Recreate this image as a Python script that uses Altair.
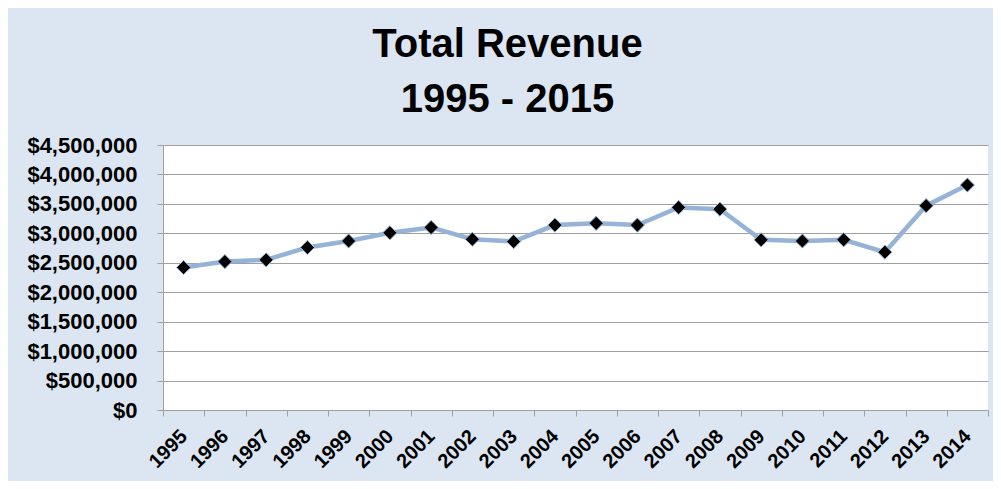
import altair as alt
import pandas as pd

years = ["1995", "1996", "1997", "1998", "1999", "2000", "2001", "2002", "2003", "2004",
         "2005", "2006", "2007", "2008", "2009", "2010", "2011", "2012", "2013", "2014"]
revenue = [2420000, 2520000, 2550000, 2760000, 2870000, 3010000, 3100000, 2900000, 2860000, 3140000,
           3170000, 3140000, 3440000, 3410000, 2890000, 2870000, 2890000, 2680000, 3470000, 3820000]
y_ticks = [0, 500000, 1000000, 1500000, 2000000, 2500000, 3000000, 3500000, 4000000, 4500000]

df = pd.DataFrame({"Year": years, "Revenue": revenue})

FONT = "Liberation Sans"
GRAY = "#a0a0a0"

x_enc = alt.X(
    "Year:N",
    sort=years,
    scale=alt.Scale(type="band", paddingInner=0, paddingOuter=0),
    axis=alt.Axis(
        title=None, labelAngle=-45, labelAlign="right", labelBaseline="middle",
        labelFont=FONT, labelFontSize=20, labelFontWeight="bold", labelColor="black",
        labelPadding=17, tickBand="extent", tickSize=6, tickColor=GRAY,
        domainColor=GRAY, grid=False, labelOverlap=False,
    ),
)
y_enc = alt.Y(
    "Revenue:Q",
    scale=alt.Scale(domain=[0, 4500000], nice=False),
    axis=alt.Axis(
        title=None, values=y_ticks, format="$,.0f",
        labelFont=FONT, labelFontSize=22, labelFontWeight="bold", labelColor="black",
        labelPadding=20, tickSize=6, tickColor=GRAY, domainColor=GRAY,
        grid=True, gridColor=GRAY, gridWidth=1,
    ),
)

line = alt.Chart(df).mark_line(color="#95b3d7", strokeWidth=4.5).encode(x=x_enc, y=y_enc)
points = alt.Chart(df).mark_point(
    shape="diamond", filled=True, fill="black", stroke="#95b3d7", strokeWidth=1,
    size=200, opacity=1,
).encode(x=x_enc, y=y_enc)

chart = (
    alt.layer(line, points)
    .properties(
        width=825,
        height=265,
        background="#dce6f2",
        padding={"left": 155, "top": 137, "right": 5, "bottom": 71},
        autosize=alt.AutoSizeParams(type="none"),
        title=alt.TitleParams(
            text=["Total Revenue", "1995 - 2015"],
            font=FONT, fontSize=40, fontWeight="bold", color="black",
            lineHeight=55, anchor="middle", offset=14, dx=-68,
        ),
    )
    .configure_view(fill="white", stroke=None)
)

chart.save("out.html", embed_options={"renderer": "svg", "actions": False})
